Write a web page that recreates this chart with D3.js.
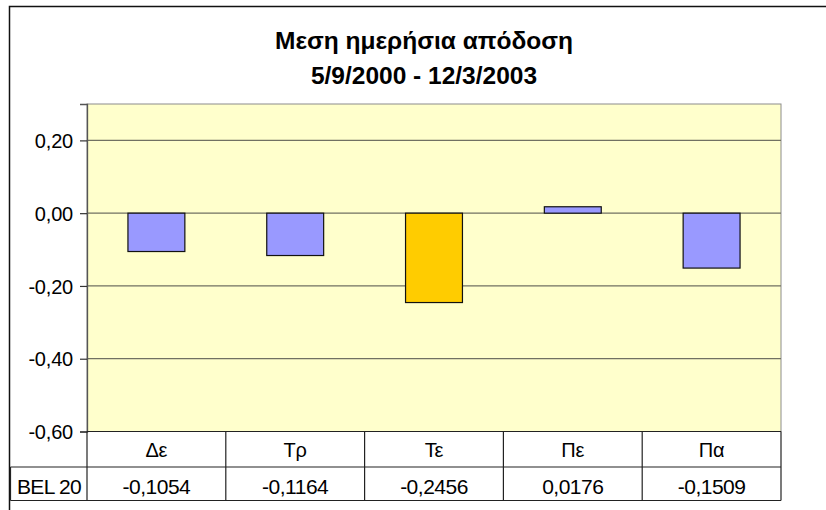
<!DOCTYPE html>
<html>
<head>
<meta charset="utf-8">
<script src="https://cdn.jsdelivr.net/npm/d3@7"></script>
<style>
  html, body { margin: 0; padding: 0; background: #fff; }
  svg { display: block; }
  text { font-family: "Liberation Sans", Arial, sans-serif; fill: #000; }
</style>
</head>
<body>
<svg id="chart" width="826" height="510"></svg>
<script>
const titleLines = ["Μεση ημερήσια απόδοση", "5/9/2000 - 12/3/2003"];
const categories = ["Δε", "Τρ", "Τε", "Πε", "Πα"];
const seriesName = "BEL 20";
const values = [-0.1054, -0.1164, -0.2456, 0.0176, -0.1509];
const valueLabels = ["-0,1054", "-0,1164", "-0,2456", "0,0176", "-0,1509"];
const highlighted = ["Τε"];
const yTicks = [0.2, 0, -0.2, -0.4, -0.6];
const yTickLabels = ["0,20", "0,00", "-0,20", "-0,40", "-0,60"];

const svg = d3.select("#chart");
const plot = { left: 87, right: 781, top: 104, bottom: 431.5 };
const rowSep = 467, tableBottom = 500.5, tableLeft = 10.5;

// outer frame (left + top visible)
svg.append("path")
  .attr("d", "M9.5,510 V6.5 H826")
  .attr("fill", "none").attr("stroke", "#111").attr("stroke-width", 1.5);

// title
const title = svg.append("text").attr("text-anchor", "middle")
  .attr("font-weight", "bold").attr("font-size", 24.5);
title.selectAll("tspan").data(titleLines).join("tspan")
  .attr("x", 424).attr("y", (d, i) => 49 + i * 34.5).text(d => d);

const x = d3.scaleBand().domain(categories).range([plot.left, plot.right]).paddingInner(0.59).paddingOuter(0.295);
const xCell = d3.scaleBand().domain(categories).range([plot.left, plot.right]);
const y = d3.scaleLinear().domain([-0.6, 0.3]).range([plot.bottom, plot.top]);

// plot background
svg.append("rect").attr("x", plot.left).attr("y", plot.top)
  .attr("width", plot.right - plot.left).attr("height", plot.bottom - plot.top)
  .attr("fill", "#FFFFCC").attr("stroke", "#8c8c8c").attr("stroke-width", 1);

// gridlines
svg.append("g").selectAll("line").data(yTicks.filter(d => d > -0.6)).join("line")
  .attr("x1", plot.left).attr("x2", plot.right)
  .attr("y1", d => y(d)).attr("y2", d => y(d))
  .attr("stroke", "#717162").attr("stroke-width", 1.3);

// y axis
const yAxis = d3.axisLeft(y).tickValues(yTicks).tickSize(7).tickPadding(7)
  .tickFormat((d, i) => yTickLabels[i]);
const gy = svg.append("g").attr("transform", `translate(${plot.left},0)`).call(yAxis);
gy.select(".domain").attr("stroke", "#555").attr("stroke-width", 1.3);
gy.selectAll(".tick line").attr("stroke", "#333").attr("stroke-width", 1.2);
gy.selectAll(".tick text").attr("font-size", 20).attr("font-family", "Liberation Sans, Arial, sans-serif")
  .attr("fill", "#000").attr("letter-spacing", -0.2).attr("dy", "0.36em");

// bars
svg.append("g").selectAll("rect").data(values).join("rect")
  .attr("x", (d, i) => x(categories[i]))
  .attr("width", x.bandwidth())
  .attr("y", d => y(Math.max(0, d)))
  .attr("height", d => Math.abs(y(d) - y(0)))
  .attr("fill", (d, i) => highlighted.includes(categories[i]) ? "#FFCC00" : "#9999FF")
  .attr("stroke", "#111").attr("stroke-width", 1.2);

// data table
const tg = svg.append("g").attr("fill", "none").attr("stroke", "#222").attr("stroke-width", 1.2);
tg.append("line").attr("x1", plot.left).attr("x2", plot.left).attr("y1", plot.bottom).attr("y2", tableBottom);
tg.append("line").attr("x1", plot.right).attr("x2", plot.right).attr("y1", plot.bottom).attr("y2", tableBottom);
tg.append("line").attr("x1", plot.left).attr("x2", plot.right).attr("y1", plot.bottom).attr("y2", plot.bottom);
tg.append("line").attr("x1", tableLeft).attr("x2", plot.right).attr("y1", rowSep).attr("y2", rowSep);
tg.append("line").attr("x1", tableLeft).attr("x2", plot.right).attr("y1", tableBottom).attr("y2", tableBottom);
tg.append("line").attr("x1", tableLeft).attr("x2", tableLeft).attr("y1", rowSep).attr("y2", tableBottom);
tg.selectAll("line.div").data(categories.slice(1)).join("line").attr("class", "div")
  .attr("x1", d => xCell(d)).attr("x2", d => xCell(d))
  .attr("y1", plot.bottom).attr("y2", tableBottom);

svg.append("g").selectAll("text").data(categories).join("text")
  .attr("x", d => xCell(d) + xCell.bandwidth() / 2).attr("y", 457)
  .attr("text-anchor", "middle").attr("font-size", 20).attr("letter-spacing", -0.2)
  .text(d => d);

svg.append("g").selectAll("text").data(valueLabels).join("text")
  .attr("x", (d, i) => xCell(categories[i]) + xCell.bandwidth() / 2).attr("y", 494)
  .attr("text-anchor", "middle").attr("font-size", 21).attr("letter-spacing", -0.5)
  .text(d => d);

svg.append("text").attr("x", 49).attr("y", 494).attr("text-anchor", "middle")
  .attr("font-size", 21).attr("letter-spacing", -0.7).text(seriesName);
</script>
</body>
</html>
